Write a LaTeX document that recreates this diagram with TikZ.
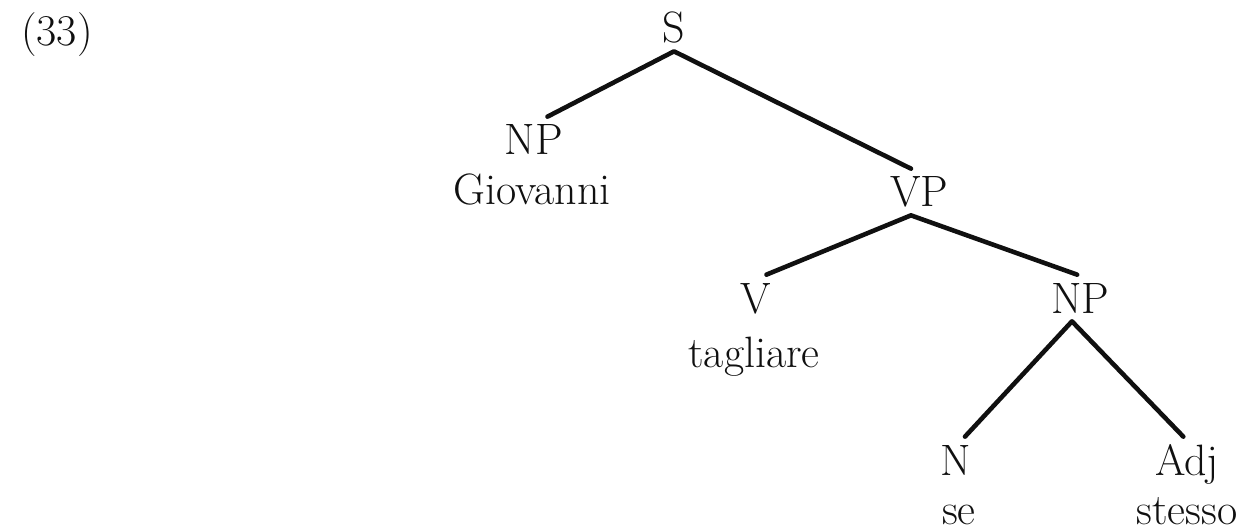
\documentclass[tikz,border=0pt]{standalone}
\usepackage{tikz}
\definecolor{tinta}{HTML}{101010}

\begin{document}
\begin{tikzpicture}[x=0.02cm,y=-0.02cm,
    every node/.style={font=\fontsize{25}{30}\selectfont, text=tinta},
    categoria/.style={anchor=base, text height=0.6cm, text depth=0pt, inner xsep=2pt, inner ysep=0.16cm},
    palavra/.style={anchor=base, inner sep=0pt},
    ramo/.style={line width=2.6pt, tinta, line cap=round, line join=round}]
  \useasboundingbox (0,0) rectangle (1243,530);
  \node[palavra] (num) at (57,46) {(33)};
  \node[categoria] (s) at (674,43) {S};
  \node[categoria] (np) at (534,155) {NP};
  \node[palavra] (giovanni) at (532,205) {Giovanni};
  \node[categoria] (vp) at (919,207) {VP};
  \node[categoria] (v) at (756,313) {V};
  \node[palavra] (tagliare) at (754,367) {tagliare};
  \node[categoria] (npo) at (1080,313) {NP};
  \node[categoria] (n) at (956,475) {N};
  \node[palavra] (se) at (959,524) {se};
  \node[categoria] (adj) at (1187,475) {Adj};
  \node[palavra] (stesso) at (1187,524) {stesso};
  \draw[ramo] (np.60) -- (s.south) -- (vp.109);
  \draw[ramo] (v.66) -- (vp.251) -- (npo.97);
  \draw[ramo] (n.69) -- (npo.251) -- (adj.99);
\end{tikzpicture}
\end{document}
